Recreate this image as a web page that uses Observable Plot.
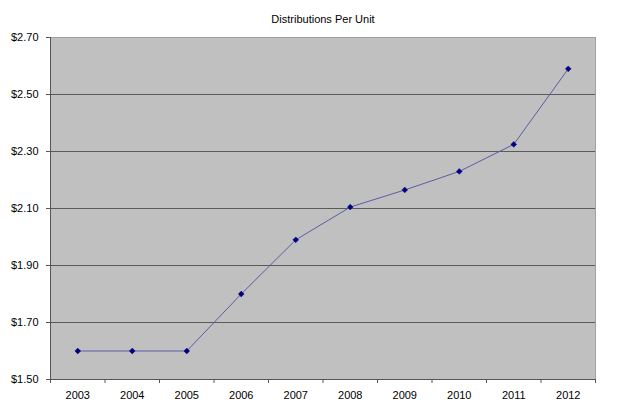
<!DOCTYPE html>
<html>
<head>
<meta charset="utf-8">
<script src="https://cdn.jsdelivr.net/npm/d3@7"></script>
<script src="https://cdn.jsdelivr.net/npm/@observablehq/plot@0.6"></script>
<style>
  html, body { margin: 0; padding: 0; background: #fff; }
</style>
</head>
<body>
<div id="chart"></div>
<script>
const years = [2003, 2004, 2005, 2006, 2007, 2008, 2009, 2010, 2011, 2012];
const distributions = [1.60, 1.60, 1.60, 1.80, 1.99, 2.105, 2.165, 2.23, 2.325, 2.59];
const yTicks = [1.50, 1.70, 1.90, 2.10, 2.30, 2.50, 2.70];
const title = "Distributions Per Unit";

const data = years.map((year, i) => ({year, value: distributions[i]}));
const boundaries = d3.range(years[0] - 0.5, years[years.length - 1] + 1, 1);

const chart = Plot.plot({
  width: 640,
  height: 409,
  marginLeft: 50,
  marginRight: 45,
  marginTop: 37,
  marginBottom: 30,
  style: {fontFamily: "'Liberation Sans', Arial, sans-serif", fontSize: "11px", color: "#000", background: "#fff"},
  x: {domain: [years[0] - 0.5, years[years.length - 1] + 0.5]},
  y: {domain: [1.50, 2.70]},
  marks: [
    Plot.frame({fill: "#c0c0c0", stroke: "#a0a0a0"}),
    Plot.ruleY(yTicks.slice(1, -1), {stroke: "#5a5a5a", strokeWidth: 1}),
    Plot.axisY({ticks: yTicks, tickFormat: d3.format("$.2f"), tickSize: 4, tickPadding: 8, stroke: "#555", label: null}),
    Plot.axisX({ticks: years, tickFormat: d => String(d), tickSize: 0, tickPadding: 12, label: null}),
    Plot.axisX({ticks: boundaries, text: null, tickSize: 4, stroke: "#555", label: null}),
    Plot.ruleX([years[0] - 0.5], {stroke: "#555"}),
    Plot.ruleY([1.50], {stroke: "#555"}),
    Plot.line(data, {x: "year", y: "value", stroke: "#5c5ca8", strokeWidth: 1}),
    Plot.dot(data, {x: "year", y: "value", symbol: "diamond2", r: 2.6, fill: "#000080", stroke: "#000080", strokeWidth: 0.5}),
    Plot.text([title], {frameAnchor: "top", dy: -22, fontSize: 11, fill: "#000"})
  ]
});
document.getElementById("chart").appendChild(chart);
</script>
</body>
</html>
